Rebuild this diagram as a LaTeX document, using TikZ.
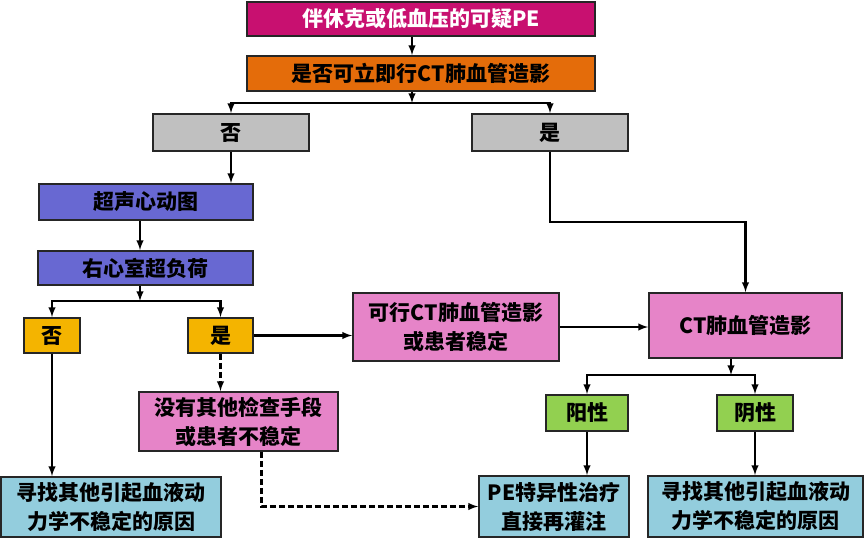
\documentclass[tikz,border=0pt]{standalone}
\usepackage{fontspec}
\setmainfont{Noto Sans CJK SC}
\definecolor{plum}{RGB}{200,16,112}
\definecolor{carrot}{RGB}{228,108,10}
\definecolor{ash}{RGB}{192,192,192}
\definecolor{violet}{RGB}{104,104,210}
\definecolor{gold}{RGB}{244,180,0}
\definecolor{rose}{RGB}{230,132,200}
\definecolor{leaf}{RGB}{146,208,80}
\definecolor{aqua}{RGB}{147,205,221}
\begin{document}
\begin{tikzpicture}[x=1pt,y=-1pt]
    \tikzstyle{box}=[draw=black!85,line width=1.8pt,inner sep=2pt,align=center,
                     font=\fontsize{21}{29}\selectfont\bfseries]
    \tikzstyle{arr}=[->,>=latex,line width=2.3pt]
    \tikzstyle{dashed arr}=[arr,dash pattern=on 6pt off 3pt]
    \useasboundingbox (0,0) rectangle (865,540);
    \node(susp)at(421,19)[box,fill=plum,text=white,minimum width=348,minimum height=34]{伴休克或低血压的可疑PE};
    \node(ctnow)at(421,73.5)[box,fill=carrot,minimum width=348,minimum height=35]{是否可立即行CT肺血管造影};
    \node(no1)at(231,132.5)[box,fill=ash,minimum width=156,minimum height=37]{否};
    \node(yes1)at(550,132.5)[box,fill=ash,minimum width=156,minimum height=37]{是};
    \node(echo)at(146,202)[box,fill=violet,minimum width=214,minimum height=36]{超声心动图};
    \node(rvo)at(145.5,268)[box,fill=violet,minimum width=215,minimum height=34]{右心室超负荷};
    \node(no2)at(52,335.5)[box,fill=gold,minimum width=56,minimum height=35]{否};
    \node(yes2)at(220.5,335.5)[box,fill=gold,minimum width=65,minimum height=35]{是};
    \node(ctok)at(456,327)[box,fill=rose,minimum width=206,minimum height=68]{可行CT肺血管造影\\或患者稳定};
    \node(ctpa)at(745.5,325.5)[box,fill=rose,minimum width=193,minimum height=65]{CT肺血管造影};
    \node(noother)at(238.5,421.5)[box,fill=rose,minimum width=199,minimum height=59]{没有其他检查手段\\或患者不稳定};
    \node(pos)at(587,413)[box,fill=leaf,minimum width=82,minimum height=36]{阳性};
    \node(neg)at(755,413)[box,fill=leaf,minimum width=76,minimum height=36]{阴性};
    \node(other1)at(111,507)[box,fill=aqua,minimum width=220,minimum height=60]{寻找其他引起血液动\\力学不稳定的原因};
    \node(treat)at(554,506.5)[box,fill=aqua,minimum width=150,minimum height=61]{PE特异性治疗\\直接再灌注};
    \node(other2)at(755.5,506.5)[box,fill=aqua,minimum width=215,minimum height=61]{寻找其他引起血液动\\力学不稳定的原因};
    \coordinate(split1)at(412,103);
    \coordinate(split2)at(140,301);
    \coordinate(split3)at(731,375);
    \draw[arr]([xshift=-9]susp.south)--([xshift=-9]ctnow.north);
    \draw[arr](ctnow.south-|split1)--(split1);
    \draw[arr](split1)-|(no1.north);
    \draw[arr](split1)-|(yes1.north);
    \draw[arr](no1.south)--(no1.south|-echo.north);
    \draw[arr](echo.south-|split2)--(rvo.north-|split2);
    \draw[arr](rvo.south-|split2)--(split2);
    \draw[arr](split2)-|(no2.north);
    \draw[arr](split2)-|(yes2.north);
    \draw[arr](no2.south)--(no2.south|-other1.north);
    \draw[arr](yes2.east)--(yes2.east-|ctok.west);
    \draw[dashed arr](yes2.south)--(yes2.south|-noother.north);
    \draw[dashed arr]([xshift=23]noother.south)|-(treat.west);
    \draw[arr](ctok.east)--(ctok.east-|ctpa.west);
    \draw[arr](yes1.south)--++(0,70)-|(ctpa.north);
    \draw[arr](ctpa.south-|split3)--(split3);
    \draw[arr](split3)-|(pos.north);
    \draw[arr](split3)-|(neg.north);
    \draw[arr](pos.south)--(pos.south|-treat.north);
    \draw[arr](neg.south)--(neg.south|-other2.north);
\end{tikzpicture}
\end{document}
